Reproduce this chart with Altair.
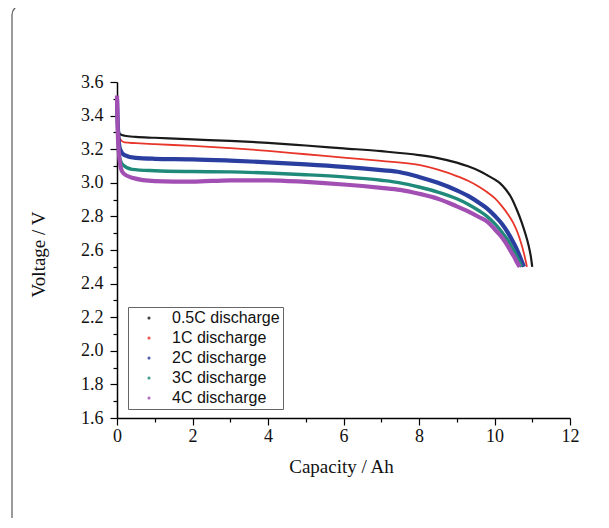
import altair as alt
import pandas as pd

series_names = ["0.5C discharge", "1C discharge", "2C discharge", "3C discharge", "4C discharge"]
series_colors = ["#1a1a1a", "#e8352a", "#2a3ea0", "#1f8a7a", "#a24fb3"]
series_widths = [2.2, 1.8, 4.2, 3.4, 4.2]

x_05c = [0, 0.03, 0.08, 0.2, 0.5, 1, 2, 3, 4, 5, 6, 7, 8, 8.5, 9, 9.3, 9.6, 9.8, 10.0, 10.15, 10.3,
         10.45, 10.6, 10.72, 10.82, 10.9, 10.96, 11.0]
y_05c = [3.50, 3.34, 3.29, 3.28, 3.273, 3.268, 3.258, 3.25, 3.238, 3.222, 3.205, 3.188, 3.165, 3.147,
         3.12, 3.098, 3.07, 3.046, 3.02, 2.997, 2.96, 2.91, 2.835, 2.765, 2.695, 2.63, 2.565, 2.50]

x_1c = [0, 0.03, 0.08, 0.2, 0.5, 1, 2, 3, 4, 5, 6, 7, 8, 8.5, 9, 9.3, 9.6, 9.8, 10.0, 10.2, 10.35,
        10.5, 10.6, 10.7, 10.78, 10.86]
y_1c = [3.50, 3.33, 3.26, 3.24, 3.236, 3.23, 3.22, 3.207, 3.19, 3.17, 3.15, 3.13, 3.106, 3.078,
        3.04, 3.012, 2.975, 2.945, 2.91, 2.86, 2.815, 2.76, 2.71, 2.645, 2.58, 2.50]

x_2c = [0, 0.03, 0.08, 0.2, 0.5, 1, 2, 3, 4, 5, 6, 7, 7.5, 8, 8.5, 9, 9.3, 9.6, 9.8, 10.0, 10.2,
        10.35, 10.5, 10.6, 10.7, 10.78]
y_2c = [3.50, 3.30, 3.20, 3.165, 3.148, 3.143, 3.14, 3.132, 3.122, 3.11, 3.095, 3.075, 3.063,
        3.035, 3.0, 2.955, 2.922, 2.88, 2.848, 2.805, 2.755, 2.705, 2.645, 2.6, 2.545, 2.50]

x_3c = [0, 0.03, 0.08, 0.16, 0.4, 1, 2, 3, 4, 5, 6, 7, 7.5, 8, 8.5, 9, 9.3, 9.6, 9.8, 10.0, 10.2,
        10.35, 10.5, 10.58, 10.66, 10.72]
y_3c = [3.50, 3.25, 3.14, 3.106, 3.08, 3.072, 3.067, 3.065, 3.058, 3.048, 3.035, 3.015, 3.0,
        2.975, 2.945, 2.905, 2.873, 2.832, 2.80, 2.758, 2.705, 2.66, 2.60, 2.565, 2.53, 2.50]

x_4c = [0, 0.02, 0.05, 0.1, 0.17, 0.4, 1, 2, 3, 4, 5, 6, 7, 7.5, 8, 8.5, 9, 9.3, 9.6, 9.8, 10.0,
        10.2, 10.35, 10.45, 10.53, 10.6, 10.67]
y_4c = [3.52, 3.30, 3.18, 3.09, 3.056, 3.03, 3.01, 3.007, 3.015, 3.015, 3.005, 2.99, 2.97, 2.958,
        2.935, 2.905, 2.86, 2.83, 2.795, 2.77, 2.725, 2.675, 2.625, 2.585, 2.555, 2.525, 2.50]

x_ticks = [0, 1, 2, 3, 4, 5, 6, 7, 8, 9, 10, 11, 12]
y_ticks = [1.6, 1.7, 1.8, 1.9, 2.0, 2.1, 2.2, 2.3, 2.4, 2.5, 2.6, 2.7, 2.8, 2.9, 3.0,
           3.1, 3.2, 3.3, 3.4, 3.5, 3.6]

all_x = [x_05c, x_1c, x_2c, x_3c, x_4c]
all_y = [y_05c, y_1c, y_2c, y_3c, y_4c]

W, H = 453, 336

x_enc = alt.X("cap:Q", scale=alt.Scale(domain=[0, 12], nice=False, zero=False),
              axis=alt.Axis(
                  values=x_ticks, title="Capacity / Ah",
                  labelExpr="datum.value % 2 === 0 ? datum.label : ''",
                  tickSize={"condition": {"test": "datum.value % 2 === 0", "value": 7}, "value": 4},
                  labelPadding=2, titleX=224, titleY=54, titleBaseline="alphabetic",
                  titleAlign="center"))
y_enc = alt.Y("volt:Q", scale=alt.Scale(domain=[1.6, 3.6], nice=False, zero=False),
              axis=alt.Axis(
                  values=y_ticks, title="Voltage / V", format=".1f",
                  labelExpr="round(datum.value * 10) % 2 === 0 ? datum.label : ''",
                  tickSize={"condition": {"test": "round(datum.value * 10) % 2 === 0", "value": 7}, "value": 4},
                  labelPadding=7, titleX=-79, titleY=172, titleAngle=270,
                  titleAlign="center", titleBaseline="middle"))
color_enc = alt.Color("series:N",
                      scale=alt.Scale(domain=series_names, range=series_colors),
                      sort=series_names,
                      legend=alt.Legend(title=None, orient="none", legendX=11, legendY=225,
                                        symbolType="circle", symbolSize=1,
                                        symbolStrokeWidth=2, symbolOffset=10,
                                        labelOffset=15, rowPadding=4, padding=3,
                                        strokeColor="#666666", fillColor="white",
                                        labelFont="Liberation Sans", labelFontSize=16,
                                        labelColor="#111111"))

layers = []
frame = alt.Chart(pd.DataFrame({"k": [0]})).mark_rect(
    fill="transparent", stroke="#666666", strokeWidth=1.3, cornerRadius=10, clip=False
).encode(
    x=alt.value(-105), x2=alt.value(490), y=alt.value(-77), y2=alt.value(447)
)
layers.append(frame)

for name, xs, ys, w in zip(series_names, all_x, all_y, series_widths):
    d = pd.DataFrame({"series": name, "cap": xs, "volt": ys})
    layers.append(
        alt.Chart(d).mark_line(interpolate="monotone", strokeWidth=w, clip=False).encode(
            x=x_enc, y=y_enc, color=color_enc
        )
    )

chart = alt.layer(*layers).properties(
    width=W, height=H,
    autosize=alt.AutoSizeParams(type="none"),
    padding={"left": 109, "top": 74, "right": 30, "bottom": 100},
).configure_view(stroke=None).configure_axis(
    grid=False, domainColor="black", domainWidth=1.5, tickColor="black", tickWidth=1.2,
    labelFont="Liberation Serif", labelFontSize=18, labelColor="#111111",
    titleFont="Liberation Serif", titleFontSize=19, titleColor="#111111",
    titleFontWeight="normal", labelFlush=False, labelOverlap=False
)

chart.save("out.html", embed_options={"renderer": "svg", "actions": False})
